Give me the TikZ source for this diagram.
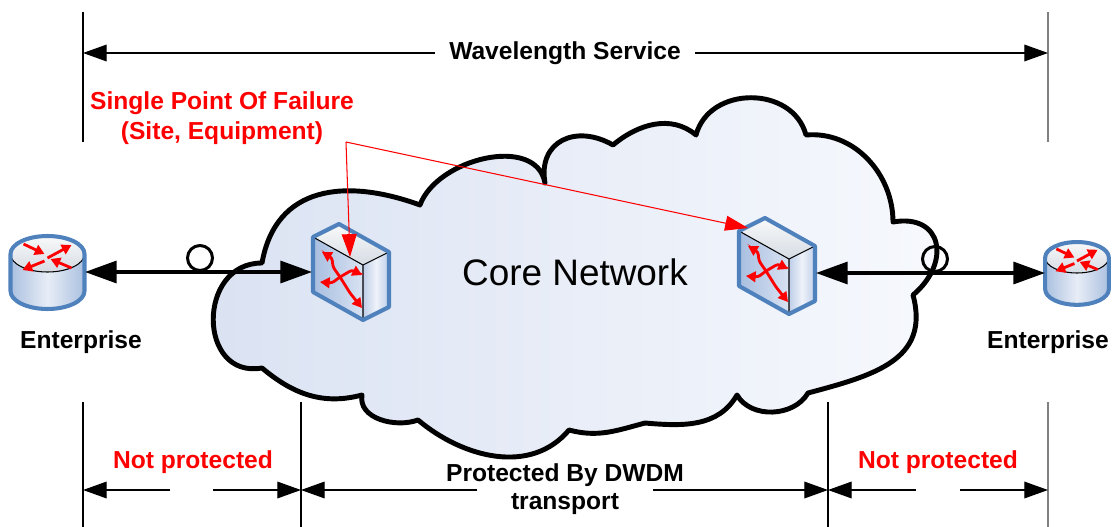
\documentclass[tikz,border=0pt]{standalone}
\usepackage{fontspec}
\setmainfont{Liberation Sans}
\usetikzlibrary{arrows.meta}
\definecolor{devblue}{RGB}{79,129,189}
\definecolor{cloudL}{RGB}{218,226,242}
\definecolor{cloudR}{RGB}{247,249,253}
\definecolor{faceL}{RGB}{168,190,224}
\definecolor{faceR}{RGB}{216,226,242}
\definecolor{sideL}{RGB}{190,206,232}
\definecolor{sideM}{RGB}{238,242,249}
\definecolor{topA}{RGB}{248,249,249}
\definecolor{topB}{RGB}{214,220,228}
\definecolor{routS}{RGB}{170,192,224}
\definecolor{routM}{RGB}{232,237,246}
\definecolor{guidegray}{RGB}{128,128,128}

\tikzset{
  rtip/.style={red, line width=1.6pt, -{Triangle[length=5.5pt,width=6pt]}},
  xtip/.style={red, line width=1.6pt, rounded corners=1.5pt, {Triangle[length=5.5pt,width=6pt]}-{Triangle[length=5.5pt,width=6pt]}},
  pics/router/.style={code={
    % body of the cylinder
    \path[left color=routS, right color=routS, middle color=routM]
      (-37,-18) -- (-37,19) arc[start angle=180, end angle=0, x radius=37, y radius=18] -- (37,-18) -- cycle;
    \path[top color=topA, bottom color=topB] (0,-18) ellipse[x radius=37, y radius=18];
    \draw[line width=0.6pt] (-37,-18) arc[start angle=180, end angle=0, x radius=37, y radius=18];
    \draw[devblue, line width=2.3pt, line join=round]
      (-37,-18) -- (-37,19) arc[start angle=180, end angle=0, x radius=37, y radius=18]
      -- (37,-18) arc[start angle=0, end angle=-180, x radius=37, y radius=18] -- cycle;
    % arrows on top
    \draw[rtip] (-24,-28) -- (-3,-18);
    \draw[rtip] (0,-14) -- (24,-27);
    \draw[rtip] (24,-4) -- (3,-13);
    \draw[rtip] (-3,-11) -- (-25,-2);
  }},
  pics/switch/.style={code={
    % three faces
    \path[left color=faceL, right color=faceR] (-38,-35) -- (12,-7) -- (12,48) -- (-38,20) -- cycle;
    \path[top color=topA, bottom color=topB] (-38,-35) -- (-12,-48) -- (38,-20) -- (12,-7) -- cycle;
    \path[left color=sideL, right color=sideL, middle color=sideM] (12,-7) -- (38,-20) -- (38,35) -- (12,48) -- cycle;
    \draw[line width=0.6pt] (-38,-35) -- (12,-7) -- (38,-20) (12,-7) -- (12,48);
    \draw[devblue, line width=2.3pt, line join=round]
      (-38,-35) -- (-12,-48) -- (38,-20) -- (38,35) -- (12,48) -- (-38,20) -- cycle;
    % crossed arrows
    \draw[xtip] (-29,-20) -- (-19,-14) -- (-18,-5) -- (-11,5) -- (-1,21) -- (11,36);
    \draw[xtip] (-31,10) -- (-19,11) -- (-11,5) -- (1,-2) -- (11,3);
  }}
}

\begin{document}
\begin{tikzpicture}
    [   x=0.02cm, y=-0.02cm,
        dev/.style={inner sep=0pt, outer sep=0pt},
        lbl/.style={font=\bfseries\fontsize{14}{17}\selectfont, inner sep=0pt, align=center},
        ringnode/.style={draw, circle, line width=1.7pt, minimum size=0.5cm, inner sep=0pt},
        cloudpath/.style={draw=black, line width=2.8pt, line join=round, left color=cloudL, right color=cloudR},
    ]
    \tikzset{link/.style={line width=1.9pt, {Triangle[length=18pt,width=12.5pt]}-{Triangle[length=18pt,width=12.5pt]}}}
    \tikzset{dim/.style={line width=0.7pt, -{Triangle[length=13.5pt,width=9.5pt]}}}
    \tikzset{failarrow/.style={red, line width=0.6pt, -{Triangle[length=13pt,width=8.5pt]}}}
    \tikzset{guide/.style={line width=0.6pt}}
    \useasboundingbox (0,0) rectangle (1112,527);

    % core network cloud
    \draw[cloudpath] (262,263)
        to[out=80,in=160,looseness=1.2] (420,205)
        to[out=70,in=100] (545,183)
        to[out=100,in=150,looseness=1.4] (613,145)
        to[out=40,in=140] (696,135)
        to[out=75,in=105,looseness=1.2] (806,135)
        to[out=5,in=90] (893,222)
        to[out=10,in=40,looseness=1.7] (913,295)
        to[out=-75,in=15,looseness=1.2] (808,393)
        to[out=-120,in=-60] (737,395)
        to[out=-120,in=-5] (645,423)
        to[out=-165,in=-15] (569,430)
        to[out=-130,in=-40] (418,420)
        to[out=-160,in=-100] (362,395)
        to[out=-165,in=-40] (262,368)
        to[out=190,in=180,looseness=1.6] cycle;
    \node[font=\fontsize{21}{25}\selectfont] (core) at (575,272) {Core Network};

    % devices
    \node[dev, minimum width=1.5cm, minimum height=1.48cm] (ent-1) at (47.5,272) {};
    \node[dev, minimum width=1.28cm, minimum height=1.24cm] (ent-2) at (1077,273) {};
    \node[dev, minimum width=1.56cm, minimum height=1.92cm] (sw-1) at (351,272) {};
    \node[dev, minimum width=1.56cm, minimum height=1.92cm] (sw-2) at (777,266) {};
    \pic at (ent-1) {router};
    \pic[scale=0.86] at (ent-2) {router};
    \pic at (sw-1) {switch};
    \pic at (sw-2) {switch};

    \node[lbl] (lab-1) at (81,342) {Enterprise};
    \node[lbl] (lab-2) at (1048,342) {Enterprise};

    % access links
    \path[draw, link] (ent-1) -- (sw-1);
    \path[draw, link] (sw-2.east |- ent-2) -- (ent-2);
    \node[ringnode] (ring-1) at (200,258) {};
    \node[ringnode] (ring-2) at (935,259) {};

    % single point of failure
    \node[lbl, text=red] (spof) at (222,118) {Single Point Of Failure\\(Site, Equipment)};
    \coordinate (spof-pt) at (346,142);
    \coordinate (hit-1) at (350,257);
    \coordinate (hit-2) at (748,228);
    \path[draw, failarrow] (spof-pt) -- (hit-1);
    \path[draw, failarrow] (spof-pt) -- (hit-2);

    % guide lines
    \foreach \gx/\gc in {83/black,1048/guidegray}
    {
        \draw[guide,\gc] (\gx,12) -- (\gx,142);
    }
    \foreach \gx/\gc in {83/black,301/black,828/black,1048/guidegray}
    {
        \draw[guide,\gc] (\gx,402) -- (\gx,527);
    }

    % wavelength service span
    \node[lbl, inner xsep=8pt] (wave) at (565,53) {Wavelength Service};
    \coordinate (w-1) at (83,53);
    \coordinate (w-2) at (1048,53);
    \path[draw, dim] (wave) -- (w-1);
    \path[draw, dim] (wave) -- (w-2);

    % protection spans
    \node[lbl, text=red] (np-1) at (193,462) {Not protected};
    \node[lbl, font=\bfseries\fontsize{14}{16}\selectfont] (pb) at (565,489) {Protected By DWDM\\transport};
    \node[lbl, text=red] (np-2) at (938,462) {Not protected};

    \coordinate (d-1) at (83,490);
    \coordinate (d-2) at (301,490);
    \coordinate (d-3) at (828,490);
    \coordinate (d-4) at (1048,490);
    \coordinate (g-1) at (170,490);
    \coordinate (g-2) at (213,490);
    \coordinate (g-3) at (477,490);
    \coordinate (g-4) at (653,490);
    \coordinate (g-5) at (916,490);
    \coordinate (g-6) at (960,490);
    \path[draw, dim] (g-1) -- (d-1);
    \path[draw, dim] (g-2) -- (d-2);
    \path[draw, dim] (g-3) -- (d-2);
    \path[draw, dim] (g-4) -- (d-3);
    \path[draw, dim] (g-5) -- (d-3);
    \path[draw, dim] (g-6) -- (d-4);
\end{tikzpicture}
\end{document}
